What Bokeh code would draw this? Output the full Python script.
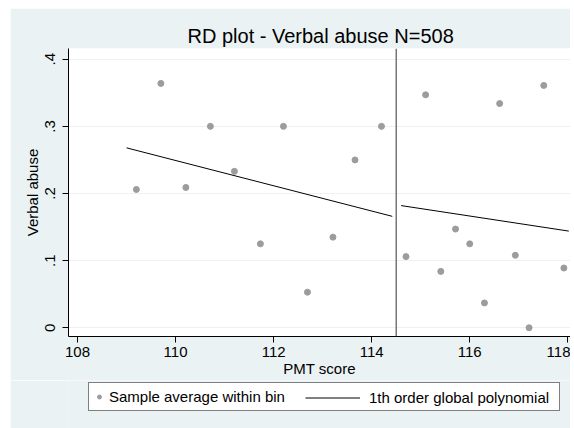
from bokeh.plotting import figure
from bokeh.layouts import column, row
from bokeh.models import Range1d, FixedTicker, Span, Legend, LegendItem, Spacer
from bokeh.embed import file_html
from bokeh.resources import INLINE

# Sample averages of the outcome within PMT-score bins
bin_x = [109.20, 109.70, 110.21, 110.71, 111.20, 111.73, 112.20, 112.69, 113.21, 113.66, 114.20,
         114.70, 115.10, 115.41, 115.71, 116.00, 116.30, 116.61, 116.93, 117.21, 117.51, 117.92]
bin_y = [0.206, 0.364, 0.209, 0.300, 0.233, 0.125, 0.300, 0.053, 0.135, 0.250, 0.300,
         0.106, 0.347, 0.084, 0.147, 0.125, 0.037, 0.334, 0.108, 0.000, 0.361, 0.089]

# First-order global polynomial fitted on each side of the cutoff
fit_left_x = [109.00, 114.42]
fit_left_y = [0.268, 0.166]
fit_right_x = [114.60, 118.02]
fit_right_y = [0.182, 0.144]

cutoff = 114.5

x_ticks = [108, 110, 112, 114, 116, 118]
y_ticks = [0, 0.1, 0.2, 0.3, 0.4]
y_tick_labels = ["0", ".1", ".2", ".3", ".4"]

FONT = "Liberation Sans"
BG = "#EAF2F3"
DOT = "#9C9C9C"

# ---- main panel -------------------------------------------------------
p = figure(
    width=560, height=372,
    output_backend="svg", toolbar_location=None,
    x_range=Range1d(107.816, 118.055),
    y_range=Range1d(-0.013, 0.416),
    min_border_left=58, min_border_right=0,
    min_border_top=40, min_border_bottom=44,
    border_fill_color=BG, background_fill_color="white",
    outline_line_color=None,
)

p.title.text = "RD plot - Verbal abuse N=508"
p.title.align = "left"
p.title.offset = 119
p.title.text_font = FONT
p.title.text_font_size = "20px"
p.title.text_font_style = "normal"
p.title.text_color = "black"
p.title.standoff = 3

for ax in (p.xaxis, p.yaxis):
    ax.axis_line_color = "black"
    ax.axis_line_width = 1
    ax.major_tick_line_color = "black"
    ax.major_tick_out = 6
    ax.major_tick_in = 0
    ax.minor_tick_line_color = None
    ax.major_label_text_font = FONT
    ax.major_label_text_font_size = "15px"
    ax.major_label_text_color = "black"
    ax.axis_label_text_font = FONT
    ax.axis_label_text_font_size = "15px"
    ax.axis_label_text_font_style = "normal"
    ax.axis_label_text_color = "black"

p.xaxis.ticker = FixedTicker(ticks=x_ticks)
p.xaxis.axis_label = "PMT score"
p.xaxis.major_label_standoff = 4
p.xaxis.axis_label_standoff = 0

p.yaxis.ticker = FixedTicker(ticks=y_ticks)
p.yaxis.major_label_overrides = dict(zip(y_ticks, y_tick_labels))
p.yaxis.major_label_orientation = "vertical"
p.yaxis.axis_label = "Verbal abuse"
p.yaxis.major_label_standoff = 7
p.yaxis.axis_label_standoff = 2

p.xgrid.visible = False
p.ygrid.ticker = FixedTicker(ticks=y_ticks)
p.ygrid.grid_line_color = BG
p.ygrid.grid_line_width = 1

# cutoff
p.add_layout(Span(location=cutoff, dimension="height",
                  line_color="#555555", line_width=1.2))

p.scatter(bin_x, bin_y, size=6, fill_color=DOT, line_color=DOT)
p.line(fit_left_x, fit_left_y, line_color="black", line_width=1)
p.line(fit_right_x, fit_right_y, line_color="black", line_width=1)

# ---- legend strip (its frame lines up with the main frame) -------------
lg = figure(
    width=560, height=48,
    output_backend="svg", toolbar_location=None,
    x_axis_type=None, y_axis_type=None,
    x_range=Range1d(0, 1), y_range=Range1d(0, 1),
    min_border_left=0, min_border_right=0, min_border_top=0, min_border_bottom=0,
    border_fill_color=BG, background_fill_color=BG, outline_line_color=None,
)
lg.grid.visible = False
key_dots = lg.scatter(bin_x, bin_y, size=6, fill_color=DOT, line_color=DOT, visible=False)
key_fit = lg.line(fit_left_x, fit_left_y, line_color="black", line_width=1, visible=False)

common = dict(
    orientation="horizontal", padding=5, spacing=0, margin=0,
    glyph_height=17, label_height=17,
    label_text_font=FONT, label_text_font_size="15px", label_text_color="black",
)
leg_box = Legend(
    items=[LegendItem(label="Sample average within bin", renderers=[key_dots])],
    location=(20, 17), glyph_width=10, label_standoff=5, label_width=445,
    border_line_color="black", border_line_width=1,
    background_fill_color="white", background_fill_alpha=1.0,
    **common,
)
leg_line = Legend(
    items=[LegendItem(label="1th order global polynomial", renderers=[key_fit])],
    location=(232, 17), glyph_width=55, label_standoff=9,
    border_line_alpha=0, background_fill_alpha=0,
    **common,
)
lg.add_layout(leg_box)
lg.add_layout(leg_line)

layout = column(
    Spacer(width=570, height=8),
    row(Spacer(width=10, height=420), column(p, lg, spacing=0), spacing=0),
    spacing=0,
)

open("out.html", "w").write(file_html(layout, INLINE))
